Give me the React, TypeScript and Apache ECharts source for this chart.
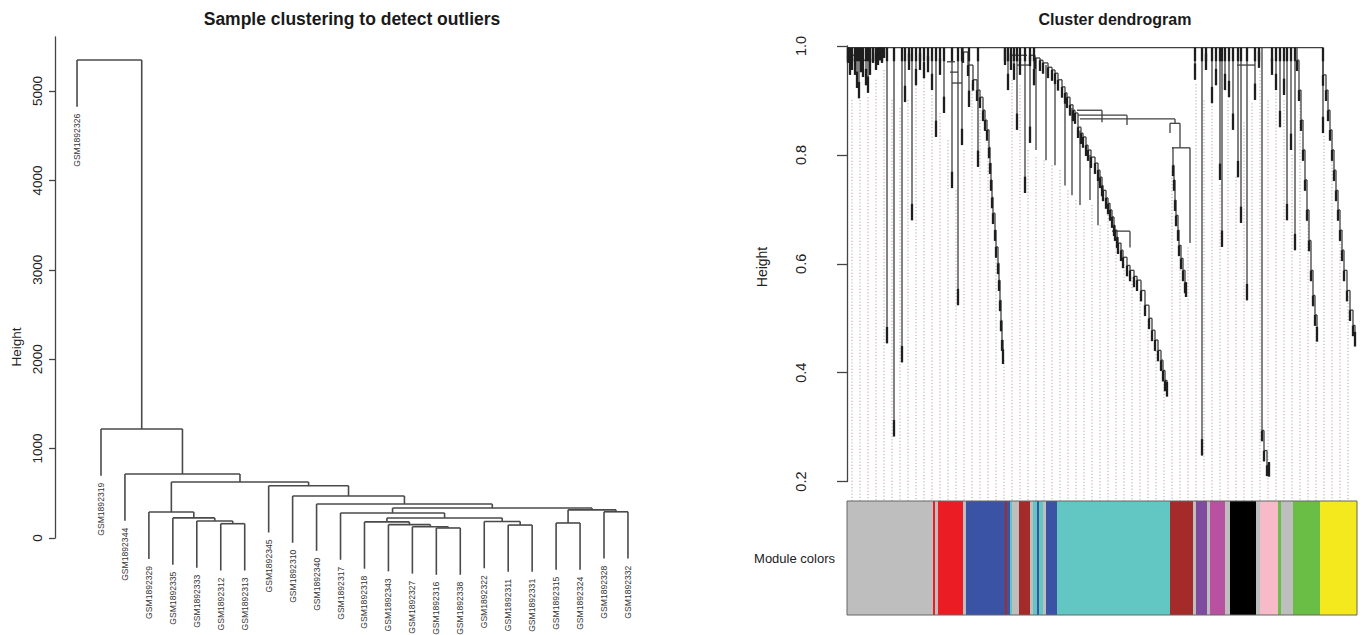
import React, { useEffect, useRef } from "react";
import * as echarts from "echarts";

const FONT = "'Liberation Sans', Arial, Helvetica, sans-serif";

// ---------------- Left panel: sample clustering ----------------
const sampleNames = [
  "GSM1892326", "GSM1892319", "GSM1892344", "GSM1892329", "GSM1892335", "GSM1892333",
  "GSM1892312", "GSM1892313", "GSM1892345", "GSM1892310", "GSM1892340", "GSM1892317",
  "GSM1892318", "GSM1892343", "GSM1892327", "GSM1892316", "GSM1892338", "GSM1892322",
  "GSM1892311", "GSM1892331", "GSM1892315", "GSM1892324", "GSM1892328", "GSM1892332",
];
// hclust-style merge table: negative = leaf (1-based in plotting order), positive = earlier merge row
const mergeA = [-16, -15, -19, -14, -7, -21, -13, -18, -6, 7, -5, -12, -4, -23, 6, 12, -11, -10, -9, 13, -3, -2, -1];
const mergeB = [-17, 1, -20, 2, -8, -22, 4, 3, 5, 8, 9, 10, 11, -24, 14, 15, 16, 17, 18, 19, 20, 21, 22];
const mergeHeight = [112, 125, 145, 150, 160, 168, 180, 185, 190, 224, 225, 280, 290, 293, 315, 335, 380, 470, 585, 626, 716, 1220, 5347];
const heightTicks = [0, 1000, 2000, 3000, 4000, 5000];

// ---------------- Right panel: gene cluster dendrogram ----------------
const geneHeightTicks = [0.2, 0.4, 0.6, 0.8, 1.0];
const topJoinHeight = 0.997;
const topJoinFrom = 1;
const topJoinTo = 473;

const spikeX = [1, 3, 5, 8, 10, 12, 14, 16, 19, 21, 23, 26, 29, 31, 33, 35, 37, 40, 47, 55, 58, 62, 65, 69, 73, 77, 81, 85, 89, 93, 97, 105, 111, 115, 122, 131, 158, 161, 164, 167, 170, 173, 178, 183, 187, 348, 355, 359, 365, 369, 373, 375, 378, 382, 386, 391, 394, 400, 408, 412, 425, 429, 433, 437, 440, 444, 448, 476];
const spikeBottom = [0.969, 0.947, 0.956, 0.947, 0.923, 0.904, 0.952, 0.943, 0.928, 0.914, 0.947, 0.969, 0.956, 0.965, 0.974, 0.969, 0.978, 0.454, 0.283, 0.419, 0.897, 0.956, 0.68, 0.928, 0.956, 0.941, 0.952, 0.919, 0.833, 0.947, 0.877, 0.739, 0.524, 0.818, 0.888, 0.778, 0.965, 0.919, 0.956, 0.938, 0.846, 0.947, 0.73, 0.822, 0.928, 0.938, 0.248, 0.956, 0.895, 0.928, 0.754, 0.631, 0.919, 0.906, 0.846, 0.759, 0.675, 0.533, 0.901, 0.96, 0.947, 0.919, 0.851, 0.91, 0.68, 0.809, 0.625, 0.84];

const subSpikeX = [189, 199, 208, 218, 225, 233, 243, 251, 323, 343, 255, 280, 328, 333, 283];
const subSpikeTop = [0.978, 0.965, 0.95, 0.914, 0.886, 0.845, 0.8, 0.772, 0.858, 0.813, 0.882, 0.873, 0.866, 0.858, 0.66];
const subSpikeBottom = [0.809, 0.79, 0.781, 0.744, 0.726, 0.708, 0.717, 0.671, 0.84, 0.638, 0.86, 0.855, 0.858, 0.813, 0.63];

const shelfFrom = [1, 8, 100, 103, 105, 165, 170, 230, 231, 233, 323, 325, 390, 265];
const shelfTo = [12, 20, 108, 111, 115, 180, 183, 255, 280, 328, 333, 343, 408, 283];
const shelfHeight = [0.983, 0.974, 0.971, 0.952, 0.932, 0.983, 0.965, 0.882, 0.873, 0.866, 0.858, 0.813, 0.965, 0.66];

const curveA = [[116, 0.997], [116, 0.989], [121, 0.965], [126, 0.938], [130, 0.919], [133, 0.906], [136, 0.882], [138, 0.864], [140, 0.846], [142, 0.814], [143, 0.785], [144, 0.754], [145, 0.722], [146, 0.693], [148, 0.662], [149, 0.631], [151, 0.601], [152, 0.57], [153, 0.533], [154, 0.496], [155, 0.46], [156, 0.428]];
const trunkT1 = [[183, 0.997], [183, 0.983], [188, 0.978], [193, 0.974], [196, 0.969], [201, 0.961], [205, 0.956], [208, 0.95], [211, 0.938], [215, 0.925], [218, 0.914], [220, 0.906], [223, 0.892], [226, 0.882], [228, 0.877], [231, 0.851], [234, 0.84], [236, 0.833], [239, 0.818], [241, 0.809], [244, 0.796], [248, 0.785], [251, 0.772], [253, 0.759], [255, 0.744], [256, 0.735], [259, 0.721], [261, 0.711], [263, 0.699], [265, 0.686], [267, 0.671], [268, 0.662], [270, 0.649], [271, 0.638], [274, 0.625], [276, 0.612], [280, 0.597], [283, 0.588], [287, 0.577], [290, 0.57], [294, 0.551], [298, 0.524], [302, 0.5], [305, 0.478], [308, 0.46], [311, 0.441], [314, 0.423], [316, 0.404], [318, 0.386], [320, 0.368]];
const branchT2 = [[325, 0.813], [326, 0.781], [327, 0.754], [328, 0.717], [329, 0.689], [331, 0.662], [332, 0.634], [334, 0.61], [336, 0.588], [338, 0.566], [339, 0.551]];
const longSpike = [[415, 0.997], [415, 0.294], [417, 0.257], [420, 0.23], [422, 0.221]];
const branchR1 = [[450, 0.997], [450, 0.974], [452, 0.919], [454, 0.864], [456, 0.809], [458, 0.754], [460, 0.699], [462, 0.643], [464, 0.588], [466, 0.542], [468, 0.506], [470, 0.469]];
const branchR2 = [[473, 0.997], [476, 0.947], [479, 0.919], [481, 0.882], [483, 0.846], [485, 0.809], [487, 0.772], [489, 0.735], [491, 0.699], [493, 0.662], [495, 0.625], [497, 0.588], [500, 0.551], [503, 0.515], [506, 0.487], [508, 0.46]];

const guideX = [5, 13, 21, 29, 37, 45, 53, 61, 69, 77, 85, 93, 101, 109, 117, 125, 133, 141, 149, 157, 165, 173, 181, 189, 197, 205, 213, 221, 229, 237, 245, 253, 261, 269, 277, 285, 293, 301, 309, 317, 325, 333, 341, 349, 357, 365, 373, 381, 389, 397, 405, 413, 421, 429, 437, 445, 453, 461, 469, 477, 485, 493, 501];
const guideTop = [0.901, 0.901, 0.906, 0.938, 0.956, 0.901, 0.886, 0.901, 0.928, 0.941, 0.91, 0.877, 0.827, 0.735, 0.809, 0.93, 0.9, 0.83, 0.62, 0.423, 0.938, 0.928, 0.809, 0.796, 0.79, 0.781, 0.772, 0.735, 0.717, 0.699, 0.708, 0.671, 0.69, 0.64, 0.6, 0.575, 0.545, 0.495, 0.44, 0.385, 0.77, 0.63, 0.63, 0.93, 0.9, 0.89, 0.745, 0.9, 0.76, 0.86, 0.895, 0.955, 0.9, 0.915, 0.9, 0.8, 0.91, 0.69, 0.49, 0.835, 0.8, 0.66, 0.54];
const guideBottom = 0.164;

const moduleStart = [0, 86, 88, 91, 116, 119, 158, 160, 163, 165, 168, 172, 183, 186, 190, 192, 196, 199, 210, 323, 346, 349, 360, 363, 378, 383, 409, 413, 431, 434, 446, 473];
const moduleEnd = [86, 88, 91, 116, 119, 158, 160, 163, 165, 168, 172, 183, 186, 190, 192, 196, 199, 210, 323, 346, 349, 360, 363, 378, 383, 409, 413, 431, 434, 446, 473, 510];
const moduleName = ["grey", "red", "grey", "red", "grey", "blue", "brown", "blue", "turquoise", "grey", "grey", "brown", "grey", "turquoise", "blue", "turquoise", "grey", "blue", "turquoise", "brown", "grey", "purple", "grey", "magenta", "grey", "black", "grey", "pink", "green", "grey", "green", "yellow"];
const moduleColorMap: Record<string, string> = {
  grey: "#bebebe", red: "#ec1c24", blue: "#3a53a4", brown: "#a52a2a", turquoise: "#62c7c3",
  purple: "#7e4b9e", magenta: "#b8519f", black: "#000000", pink: "#f7bac9", green: "#6abd45", yellow: "#f3e91c",
};

// ---------------- builders ----------------
function buildLeftTree() {
  const hMax = Math.max(...mergeHeight);
  const hMin = Math.min(...mergeHeight);
  const hang = 0.1 * (hMax - hMin);
  const nodeX: number[] = [];
  const segs: number[][] = [];
  const leaves: number[][] = [];
  const xOf = (r: number) => (r < 0 ? -r : nodeX[r - 1]);
  for (let i = 0; i < mergeA.length; i++) {
    const h = mergeHeight[i];
    const refs = [mergeA[i], mergeB[i]];
    const xs = refs.map(xOf);
    refs.forEach((r, k) => {
      const bottom = r < 0 ? h - hang : mergeHeight[r - 1];
      segs.push([xs[k], h, xs[k], bottom]);
      if (r < 0) leaves.push([-r, h - hang, -r - 1]);
    });
    segs.push([xs[0], h, xs[1], h]);
    nodeX.push((xs[0] + xs[1]) / 2);
  }
  return { segs, leaves };
}

function buildRightTree() {
  const thin: number[][] = [];
  const thick: number[][] = [];
  thin.push([topJoinFrom, topJoinHeight, topJoinTo, topJoinHeight]);
  spikeX.forEach((x, i) => {
    const b = spikeBottom[i];
    thin.push([x, topJoinHeight, x, b]);
    thick.push([x, Math.min(b + 0.03, topJoinHeight), x, b]);
    thick.push([x, topJoinHeight, x, Math.max(topJoinHeight - 0.025, b)]);
  });
  subSpikeX.forEach((x, i) => thin.push([x, subSpikeTop[i], x, subSpikeBottom[i]]));
  shelfFrom.forEach((x, i) => thin.push([x, shelfHeight[i], shelfTo[i], shelfHeight[i]]));
  [curveA, trunkT1, branchT2, longSpike, branchR1, branchR2].forEach((chain) => {
    for (let i = 0; i < chain.length - 1; i++) {
      const [x1, h1] = chain[i];
      const [x2, h2] = chain[i + 1];
      thin.push([x1, h1, x2, h1]);
      thin.push([x2, h1, x2, h2]);
      if (i > 0) thick.push([x1, h1, x1, h1 - 0.02]);
    }
    const last = chain[chain.length - 1];
    thick.push([last[0], last[1] + 0.015, last[0], last[1] - 0.012]);
  });
  const guides = guideX.map((x, i) => [x, guideTop[i], x, guideBottom]);
  return { thin, thick, guides };
}

function segSeries(data: number[][], xi: number, yi: number, stroke: string, lineWidth: number, dash?: number[], z = 2) {
  return {
    type: "custom",
    xAxisIndex: xi,
    yAxisIndex: yi,
    clip: false,
    silent: true,
    z,
    data,
    renderItem: (_p: any, api: any) => {
      const a = api.coord([api.value(0), api.value(1)]);
      const b = api.coord([api.value(2), api.value(3)]);
      return {
        type: "line",
        shape: { x1: a[0], y1: a[1], x2: b[0], y2: b[1] },
        style: { stroke, lineWidth, lineDash: dash || null, fill: null },
      };
    },
  };
}

export default function App() {
  const ref = useRef<HTMLDivElement>(null);
  useEffect(() => {
    document.body.style.margin = "0";
    const chart = echarts.init(ref.current!, null, { renderer: "svg" });
    const left = buildLeftTree();
    const right = buildRightTree();
    const moduleData = moduleStart.map((s, i) => [s, moduleEnd[i], i]);

    const option: any = {
      animation: false,
      backgroundColor: "#ffffff",
      textStyle: { fontFamily: FONT },
      grid: [
        { left: 55, top: 37, width: 595, height: 501 },
        { left: 827, top: 46, width: 530, height: 435.6 },
        { left: 847, top: 501, width: 510, height: 114 },
      ],
      xAxis: [
        { gridIndex: 0, type: "value", min: 0.08, max: 24.92, show: false },
        { gridIndex: 1, type: "value", min: -20, max: 510, show: false },
        { gridIndex: 2, type: "value", min: 0, max: 510, show: false },
      ],
      yAxis: [
        {
          gridIndex: 0, type: "value", min: 0, max: 5604,
          splitLine: { show: false },
          axisLine: { show: true, lineStyle: { color: "#444", width: 1.3 } },
          axisTick: { show: true, customValues: heightTicks, length: 6, lineStyle: { color: "#444", width: 1.3 } },
          axisLabel: {
            customValues: heightTicks, rotate: 90, margin: 11, fontSize: 13.5, color: "#222", fontFamily: FONT,
            formatter: (v: number) => String(v),
          },
        },
        {
          gridIndex: 1, type: "value", min: 0.2, max: 1.0,
          splitLine: { show: false },
          axisLine: { show: true, lineStyle: { color: "#444", width: 1.3 } },
          axisTick: { show: true, customValues: geneHeightTicks, length: 10, lineStyle: { color: "#444", width: 1.3 } },
          axisLabel: {
            customValues: geneHeightTicks, rotate: 90, margin: 19, fontSize: 14.5, color: "#222", fontFamily: FONT,
            formatter: (v: number) => v.toFixed(1),
          },
        },
        { gridIndex: 2, type: "value", min: 0, max: 1, show: false },
      ],
      graphic: [
        { type: "text", x: 352, y: 19, style: { text: "Sample clustering to detect outliers", align: "center", verticalAlign: "middle", fontSize: 17.5, fontWeight: "bold", fontFamily: FONT, fill: "#1a1a1a" } },
        { type: "text", x: 1115, y: 19, style: { text: "Cluster dendrogram", align: "center", verticalAlign: "middle", fontSize: 16, fontWeight: "bold", fontFamily: FONT, fill: "#1a1a1a" } },
        { type: "text", x: 16, y: 347, rotation: Math.PI / 2, style: { text: "Height", align: "center", verticalAlign: "middle", fontSize: 13.5, fontFamily: FONT, fill: "#222" } },
        { type: "text", x: 762, y: 267, rotation: Math.PI / 2, style: { text: "Height", align: "center", verticalAlign: "middle", fontSize: 14, fontFamily: FONT, fill: "#222" } },
        { type: "text", x: 835, y: 558, style: { text: "Module colors", align: "right", verticalAlign: "middle", fontSize: 13, fontFamily: FONT, fill: "#222" } },
      ],
      series: [
        segSeries(left.segs, 0, 0, "#4a4a4a", 1.6),
        {
          type: "custom", xAxisIndex: 0, yAxisIndex: 0, clip: false, silent: true,
          data: left.leaves,
          renderItem: (_p: any, api: any) => {
            const p = api.coord([api.value(0), api.value(1)]);
            return {
              type: "text", x: p[0], y: p[1] + 7, rotation: Math.PI / 2,
              style: { text: sampleNames[api.value(2)], align: "right", verticalAlign: "middle", fontSize: 8.6, fontFamily: FONT, fill: "#333" },
            };
          },
        },
        segSeries(right.guides, 1, 1, "#b5a2a2", 1, [1.2, 2], 1),
        segSeries(right.thin, 1, 1, "#404040", 1.3, undefined, 3),
        segSeries(right.thick, 1, 1, "#1e1e1e", 2.3, undefined, 4),
        {
          type: "custom", xAxisIndex: 2, yAxisIndex: 2, clip: false, silent: true, z: 2,
          data: moduleData,
          renderItem: (_p: any, api: any) => {
            const a = api.coord([api.value(0), 1]);
            const b = api.coord([api.value(1), 0]);
            return {
              type: "rect",
              shape: { x: a[0], y: a[1], width: b[0] - a[0], height: b[1] - a[1] },
              style: { fill: moduleColorMap[moduleName[api.value(2)]] },
            };
          },
        },
        {
          type: "custom", xAxisIndex: 2, yAxisIndex: 2, clip: false, silent: true, z: 3,
          data: [[0, 510]],
          renderItem: (_p: any, api: any) => {
            const a = api.coord([api.value(0), 1]);
            const b = api.coord([api.value(1), 0]);
            return {
              type: "rect",
              shape: { x: a[0], y: a[1], width: b[0] - a[0], height: b[1] - a[1] },
              style: { fill: null, stroke: "#666", lineWidth: 1 },
            };
          },
        },
      ],
    };
    chart.setOption(option);
    return () => chart.dispose();
  }, []);
  return <div ref={ref} style={{ width: 1365, height: 635, background: "#fff" }} />;
}
